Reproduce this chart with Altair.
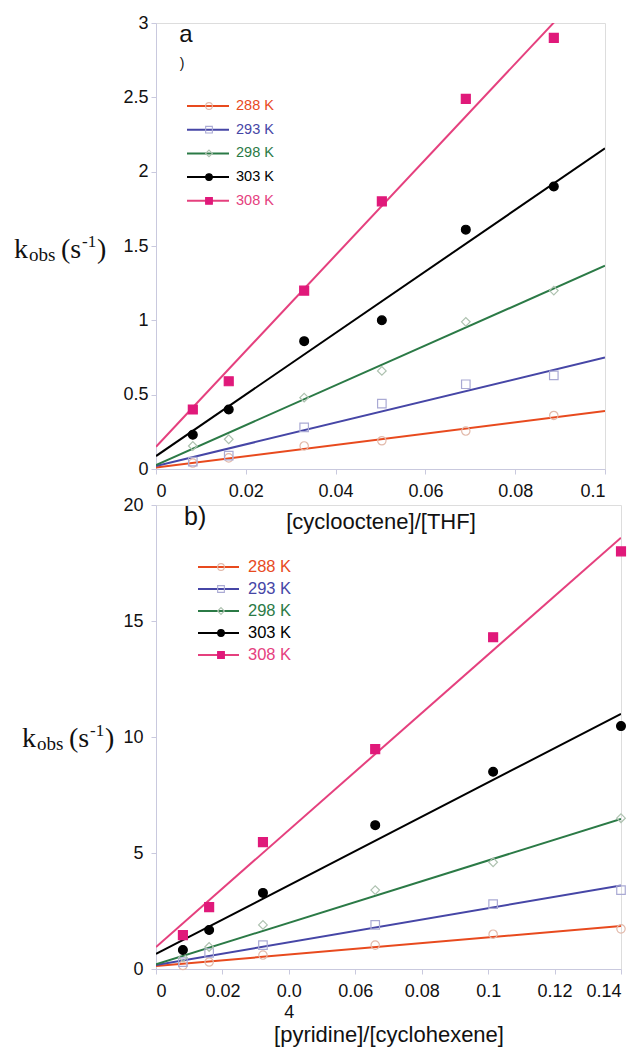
import altair as alt
import pandas as pd

series = ["288 K", "293 K", "298 K", "303 K", "308 K"]

# ---- panel a: [cyclooctene]/[THF] ----
x_a = [0.0082, 0.0162, 0.033, 0.0503, 0.069, 0.0886]
k_a_288 = [0.04, 0.075, 0.155, 0.19, 0.255, 0.36]
k_a_293 = [0.05, 0.09, 0.28, 0.44, 0.57, 0.63]
k_a_298 = [0.155, 0.20, 0.48, 0.66, 0.99, 1.20]
k_a_303 = [0.23, 0.40, 0.86, 1.00, 1.61, 1.90]
k_a_308 = [0.40, 0.59, 1.20, 1.80, 2.49, 2.90]
fit_a_intercept = [0.01, 0.02, 0.027, 0.087, 0.15]
fit_a_slope = [3.8, 7.3, 13.4, 20.7, 32.2]
xticks_a = [0, 0.02, 0.04, 0.06, 0.08, 0.1]
yticks_a = [0, 0.5, 1, 1.5, 2, 2.5, 3]

# ---- panel b: [pyridine]/[cyclohexene] ----
x_b = [0.0081, 0.016, 0.0322, 0.066, 0.1015, 0.14]
k_b_288 = [0.15, 0.30, 0.60, 1.03, 1.50, 1.73]
k_b_293 = [0.30, 0.69, 1.03, 1.90, 2.80, 3.40]
k_b_298 = [0.50, 0.95, 1.90, 3.40, 4.60, 6.50]
k_b_303 = [0.82, 1.68, 3.28, 6.20, 8.50, 10.47]
k_b_308 = [1.46, 2.67, 5.47, 9.48, 14.30, 18.00]
fit_b_intercept = [0.13, 0.17, 0.20, 0.65, 0.95]
fit_b_slope = [12.3, 24.5, 44.8, 73.9, 126.0]
xticks_b = [0, 0.02, 0.04, 0.06, 0.08, 0.1, 0.12, 0.14]
yticks_b = [0, 5, 10, 15, 20]

# ---- styles ----
line_colors = ["#e84a1e", "#4646a6", "#2b7a46", "#000000", "#e5407e"]
marker_strokes = ["#e2b9aa", "#aaaad4", "#aec2b0", "#000000", "#e0197a"]
marker_fills = ["transparent", "transparent", "transparent", "#000000", "#e0197a"]
marker_shapes = ["circle", "square", "diamond", "circle", "square"]
marker_sizes = [70, 80, 60, 110, 110]
AXIS_COLOR = "#c9c9de"
SANS = "Liberation Sans"
SERIF = "Liberation Serif"


def points_df(xs, ys_list):
    rows = []
    for s, ys in zip(series, ys_list):
        for x, y in zip(xs, ys):
            rows.append({"series": s, "x": x, "k": y})
    return pd.DataFrame(rows)


def lines_df(xmax, intercepts, slopes):
    rows = []
    for s, b, m in zip(series, intercepts, slopes):
        for x in (0.0, xmax):
            rows.append({"series": s, "x": x, "k": b + m * x})
    return pd.DataFrame(rows)


def legend_df(y0, dy):
    return pd.DataFrame({"series": series, "ly": [y0 + i * dy for i in range(len(series))]})


color_enc = alt.Color("series:N", scale=alt.Scale(domain=series, range=line_colors), legend=None)
shape_enc = alt.Shape("series:N", scale=alt.Scale(domain=series, range=marker_shapes), legend=None)
fill_enc = alt.Fill("series:N", scale=alt.Scale(domain=series, range=marker_fills), legend=None)
stroke_enc = alt.Stroke("series:N", scale=alt.Scale(domain=series, range=marker_strokes), legend=None)
size_enc = alt.Size("series:O", scale=alt.Scale(domain=series, range=marker_sizes), legend=None)

one = pd.DataFrame({"d": [0]})


def txt(text, x, y, size, font=SANS, align="left", baseline="alphabetic"):
    return alt.Chart(one).mark_text(
        text=text, font=font, fontSize=size, align=align, baseline=baseline, color="#111111"
    ).encode(x=alt.value(x), y=alt.value(y))


def panel(pts, lns, leg, xmax, xticks, ymax, yticks, w, h, xtitle, title_y,
          ylabel_pad, label_expr, leg_x, leg_font, annotations):
    xaxis_kw = dict(
        values=xticks, title=xtitle, format="~g", grid=False,
        domainColor=AXIS_COLOR, tickColor=AXIS_COLOR, tickSize=5,
        labelFont=SANS, labelFontSize=18, labelColor="#111111", labelPadding=8,
        titleFont=SANS, titleFontSize=22, titleFontWeight="normal", titleColor="#111111",
        titleY=title_y, titleBaseline="middle", labelLineHeight=21,
    )
    if label_expr:
        xaxis_kw["labelExpr"] = label_expr
    x_enc = alt.X("x:Q", scale=alt.Scale(domain=[0, xmax], nice=False, zero=False),
                  axis=alt.Axis(**xaxis_kw))
    y_enc = alt.Y("k:Q", scale=alt.Scale(domain=[0, ymax], nice=False, zero=False),
                  axis=alt.Axis(values=yticks, title=None, format="~g", grid=False,
                                domainColor=AXIS_COLOR, tickColor=AXIS_COLOR, tickSize=5,
                                labelFont=SANS, labelFontSize=18, labelColor="#111111",
                                labelPadding=ylabel_pad))
    lines = alt.Chart(lns).mark_line(clip=True, strokeWidth=2).encode(
        x=x_enc, y=y_enc, color=color_enc)
    pts_l = alt.Chart(pts).mark_point(opacity=1, strokeWidth=1.2, clip=False).encode(
        x=x_enc, y=y_enc, shape=shape_enc, fill=fill_enc, stroke=stroke_enc, size=size_enc)
    lx1, lx2, lxm, lxt = leg_x
    leg_line = alt.Chart(leg).mark_rule(strokeWidth=2).encode(
        x=alt.value(lx1), x2=alt.value(lx2), y=alt.Y("ly:Q", scale=None, axis=None),
        color=color_enc)
    leg_pt = alt.Chart(leg).mark_point(opacity=1, strokeWidth=1.1).encode(
        x=alt.value(lxm), y=alt.Y("ly:Q", scale=None, axis=None),
        shape=shape_enc, fill=fill_enc, stroke=stroke_enc, size=alt.value(45))
    leg_txt = alt.Chart(leg).mark_text(align="left", baseline="middle", font=SANS,
                                       fontSize=leg_font).encode(
        x=alt.value(lxt), y=alt.Y("ly:Q", scale=None, axis=None), text="series:N",
        color=color_enc)
    return alt.layer(lines, pts_l, leg_line, leg_pt, leg_txt, *annotations).properties(
        width=w, height=h)


def ytitle(dx, base):
    return [
        txt("k", dx, base, 28, SERIF),
        txt("obs", dx + 15, base + 3, 19, SERIF),
        txt("(s", dx + 47, base, 28, SERIF),
        txt("-1", dx + 68, base - 11, 17, SERIF),
        txt(")", dx + 83, base, 28, SERIF),
    ]


top = panel(
    points_df(x_a, [k_a_288, k_a_293, k_a_298, k_a_303, k_a_308]),
    lines_df(0.1, fit_a_intercept, fit_a_slope),
    legend_df(83, 23.7), 0.1, xticks_a, 3, yticks_a, 449, 446,
    "[cyclooctene]/[THF]", 52, 3, None, (31, 73, 53, 80), 14.5,
    ytitle(-142, 235) + [
        txt("a", 30, 12, 24, SANS, "center", "middle"),
        txt(")", 26, 41, 14, SANS, "center", "middle"),
    ],
)

bottom = panel(
    points_df(x_b, [k_b_288, k_b_293, k_b_298, k_b_303, k_b_308]),
    lines_df(0.14, fit_b_intercept, fit_b_slope),
    legend_df(62, 22), 0.14, xticks_b, 20, yticks_b, 465, 464,
    "[pyridine]/[cyclohexene]", 65, 8,
    "abs(datum.value - 0.04) < 1e-9 ? ['0.0', '4'] : datum.label",
    (42, 83, 65, 92), 16.5,
    ytitle(-134, 242) + [
        txt("b)", 28, 12, 25, SANS, "left", "middle"),
    ],
)

chart = alt.vconcat(top, bottom, spacing=36, bounds="flush").configure_view(
    stroke=None).configure(background="white")

chart.save("out.html", embed_options={"renderer": "svg", "actions": False})
